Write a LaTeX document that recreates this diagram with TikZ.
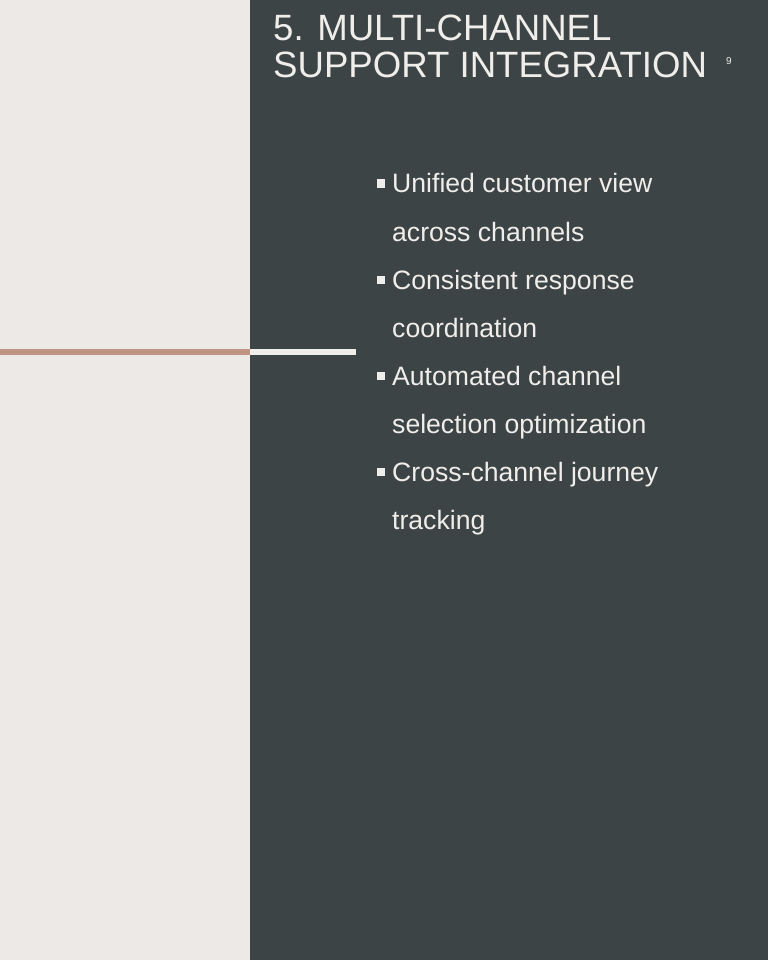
\documentclass[tikz,border=0pt]{standalone}
\usepackage{fontspec}
\setmainfont{Liberation Sans}
\definecolor{leftbg}{RGB}{237,233,230}
\definecolor{darkbg}{RGB}{61,68,70}
\definecolor{tan}{RGB}{192,150,130}
\definecolor{txt}{RGB}{240,238,235}
\tikzset{
  title/.style={anchor=base west, inner sep=0pt, text=txt, font=\fontsize{36.6}{36.6}\selectfont},
  bul/.style={anchor=base west, inner sep=0pt, text=txt, font=\fontsize{26.6}{26.6}\selectfont},
  sq/.style={fill=txt, draw=none},
}
\begin{document}
\begin{tikzpicture}[x=1pt,y=-1pt]
\useasboundingbox (0,0) rectangle (768,960);
\fill[leftbg] (0,0) rectangle (250,960);
\fill[darkbg] (250,0) rectangle (768,960);
\fill[tan] (0,349) rectangle (250,355);
\fill[txt] (250,349) rectangle (356,355);
\node[title] (t1) at (273,41) {5. MULTI-CHANNEL};
\node[title] (t2) at (273,78) {SUPPORT INTEGRATION};
\node[anchor=base west, inner sep=0pt, text=txt, font=\fontsize{10}{10}\selectfont] (pg) at (726,65) {9};
\foreach \y/\t/\b in {193/Unified customer view/1, 241/across channels/0, 289/Consistent response/1, 337/coordination/0, 385/Automated channel/1, 433/selection optimization/0, 481/Cross-channel journey/1, 529/tracking/0}{
  \node[bul] (l\y) at (392,\y) {\t};
  \ifnum\b=1 \fill[sq] (376.5,\y-13.5) rectangle (384.5,\y-5.5); \fi
}
\end{tikzpicture}
\end{document}
